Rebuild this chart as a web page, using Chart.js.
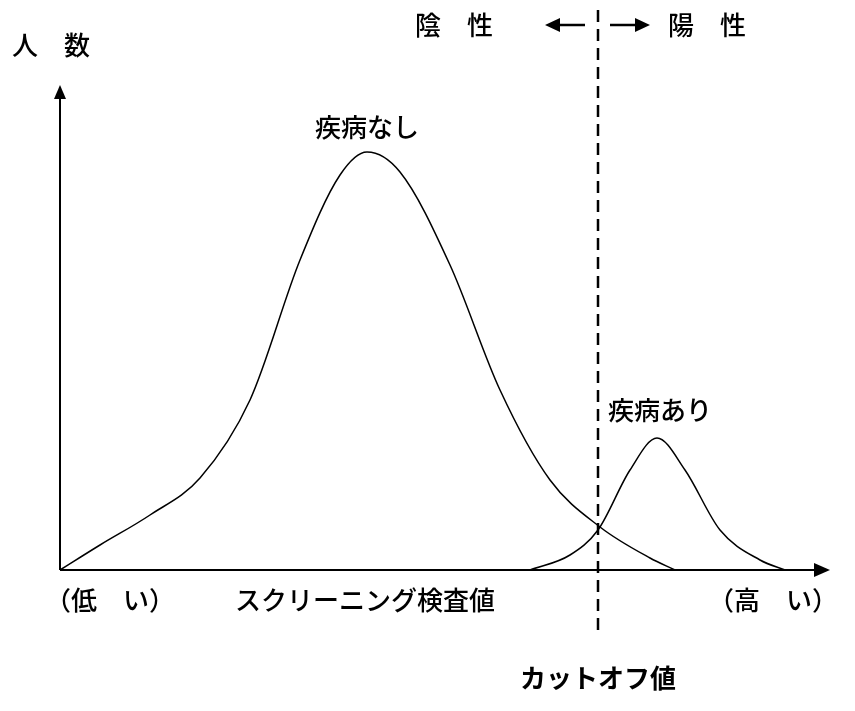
<!DOCTYPE html><html><head><meta charset="utf-8">
<script src="https://cdn.jsdelivr.net/npm/chart.js@4"></script>
<style>body{margin:0;background:#fff}#w{width:855px;height:711px}</style></head><body><div id="w"><canvas id="c"></canvas></div>
<script>
const noDiseaseX=[0,40,90,140,190,240,280,307,340,390,440,490,540,590,615];
const noDiseaseY=[0,25,55,92,170,310,395,418,398,305,180,90,43,12,0];
const diseaseX=[470,510,538,570,597,625,660,700,725];
const diseaseY=[0,15,40,100,132,100,40,10,0];
const cutoff=538;
const F='"Noto Sans CJK JP", sans-serif';
const pts=(xs,ys)=>xs.map((x,i)=>({x,y:ys[i]}));
const deco={id:'deco',afterDatasetsDraw(ch){
 const c=ch.ctx,xs=ch.scales.x,ys=ch.scales.y;
 const x0=xs.getPixelForValue(0),y0=ys.getPixelForValue(0),xe=xs.right,yt=ys.top;
 c.save();c.strokeStyle='#000';c.fillStyle='#000';c.lineWidth=2;
 c.beginPath();c.moveTo(x0,y0);c.lineTo(xe-8,y0);c.moveTo(x0,y0);c.lineTo(x0,yt+8);c.stroke();
 c.beginPath();c.moveTo(xe,y0);c.lineTo(xe-16,y0-7);c.lineTo(xe-16,y0+7);c.fill();
 c.beginPath();c.moveTo(x0,yt);c.lineTo(x0-6,yt+14);c.lineTo(x0+6,yt+14);c.fill();
 const cx=xs.getPixelForValue(cutoff);
 c.setLineDash([12,7]);c.lineWidth=2.5;c.beginPath();c.moveTo(cx,10);c.lineTo(cx,635);c.stroke();c.setLineDash([]);
 c.lineWidth=2.5;c.beginPath();c.moveTo(585,25);c.lineTo(555,25);c.moveTo(610,25);c.lineTo(640,25);c.stroke();
 c.beginPath();c.moveTo(545,25);c.lineTo(560,18);c.lineTo(560,32);c.fill();
 c.beginPath();c.moveTo(650,25);c.lineTo(635,18);c.lineTo(635,32);c.fill();
 c.font='500 26px '+F;c.textBaseline='middle';c.textAlign='left';
 c.fillText('人　数',12,45);c.fillText('陰　性',415,25);c.fillText('陽　性',668,25);
 c.fillText('（低　い）',45,600);c.fillText('スクリーニング検査値',235,600);c.fillText('（高　い）',708,600);
 c.textAlign='center';c.fillText('疾病なし',367,127);c.fillText('疾病あり',660,410);
 c.font='bold 26px '+F;c.fillText('カットオフ値',598,678);
 c.restore();}};
new Chart(document.getElementById('c'),{type:'scatter',
 data:{datasets:[
  {data:pts(noDiseaseX,noDiseaseY),showLine:true,borderColor:'#000',borderWidth:1.5,pointRadius:0,cubicInterpolationMode:'monotone'},
  {data:pts(diseaseX,diseaseY),showLine:true,borderColor:'#000',borderWidth:1.5,pointRadius:0,cubicInterpolationMode:'monotone'}]},
 options:{responsive:true,maintainAspectRatio:false,animation:false,
  layout:{padding:{left:60,right:25,top:85,bottom:141}},
  plugins:{legend:{display:false},tooltip:{enabled:false}},
  scales:{x:{type:'linear',min:0,max:770,display:false},y:{min:0,max:485,display:false}}},
 plugins:[deco]});
</script></body></html>
